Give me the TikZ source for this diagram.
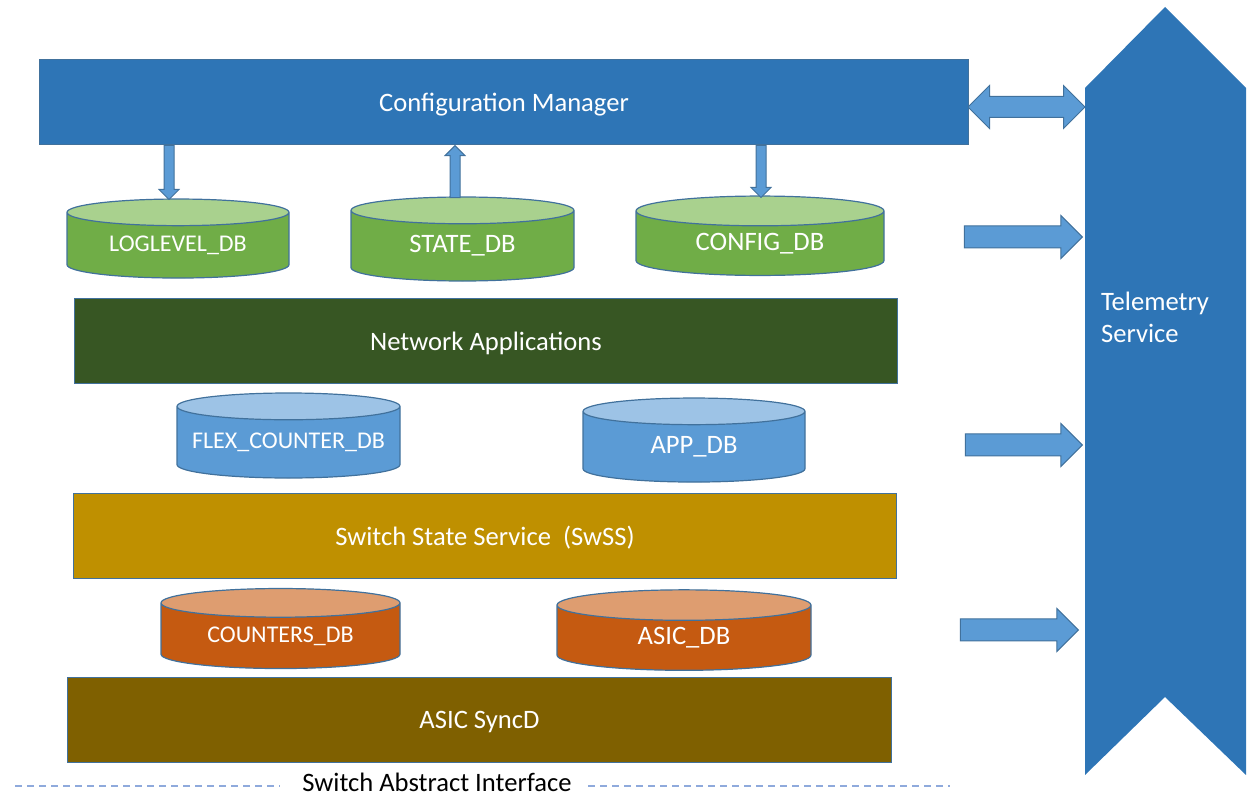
\documentclass[tikz,border=0pt]{standalone}
\usepackage{fontspec}
\setmainfont{Carlito}
\usetikzlibrary{shapes.geometric,shapes.arrows}

\definecolor{cmblue}{HTML}{2E75B6}
\definecolor{arrblue}{HTML}{5B9BD5}
\definecolor{edgeblue}{HTML}{41719C}
\definecolor{dbgreen}{HTML}{70AD47}
\definecolor{dbgreentop}{HTML}{A9D18E}
\definecolor{appgreen}{HTML}{375623}
\definecolor{dbblue}{HTML}{5B9BD5}
\definecolor{dbbluetop}{HTML}{9DC3E6}
\definecolor{swssgold}{HTML}{BF9000}
\definecolor{dborange}{HTML}{C55A11}
\definecolor{dborangetop}{HTML}{DE9D70}
\definecolor{syncbrown}{HTML}{7F6000}
\definecolor{saiblue}{HTML}{8FAADC}

\begin{document}
\begin{tikzpicture}[x=0.5pt, y=-0.5pt,
    bigtext/.style={font=\fontsize{13.3}{16}\selectfont},
    smalltext/.style={font=\fontsize{12}{14}\selectfont},
    layer/.style={rectangle, draw=edgeblue, line width=0.5pt, text=white, bigtext,
                  anchor=north west, inner sep=0pt, text depth=0pt, minimum height=42.5pt},
    db/.style={cylinder, shape border rotate=90, aspect=0.12, draw=edgeblue,
               line width=0.6pt, cylinder uses custom fill, text=white, bigtext,
               inner xsep=0pt, align=center},
    dbg/.style={db, cylinder body fill=dbgreen, cylinder end fill=dbgreentop},
    dbb/.style={db, cylinder body fill=dbblue, cylinder end fill=dbbluetop},
    dbo/.style={db, cylinder body fill=dborange, cylinder end fill=dborangetop},
    thinarrow/.style={single arrow, draw=edgeblue, fill=arrblue, line width=0.5pt,
                      inner sep=2.25pt, single arrow head extend=2.5pt},
    fatarrow/.style={single arrow, draw=edgeblue, fill=arrblue, line width=0.5pt,
                     inner sep=5.25pt, single arrow head extend=5.25pt},
    sai/.style={saiblue, line width=1pt, dash pattern=on 3.5pt off 2.5pt}]
  \useasboundingbox (0,0) rectangle (1253,795);

  % layers
  \node[layer, fill=cmblue, minimum width=464.5pt] (cm) at (39,59) {Configuration Manager};
  \node[layer, fill=appgreen, minimum width=411.5pt] (netapp) at (74,298) {Network Applications};
  \node[layer, fill=swssgold, minimum width=411.5pt] (swss) at (73,493) {Switch State Service\ \ (SwSS)};
  \node[layer, fill=syncbrown, minimum width=412pt] (syncd) at (67,677) {ASIC SyncD};

  % databases
  \node[dbg, smalltext, text width=111pt, minimum height=39.5pt] (loglevel) at (178,245.5) {LOGLEVEL\_DB};
  \node[dbg, text width=111.5pt, minimum height=42pt] (state) at (462.5,246) {STATE\_DB};
  \node[dbg, text width=124pt, minimum height=37.5pt] (config) at (760,243.5) {CONFIG\_DB};
  \node[dbb, smalltext, text width=111.5pt, minimum height=42.5pt] (flex) at (288.5,442.5) {FLEX\_COUNTER\_DB};
  \node[dbb, text width=111pt, minimum height=42pt] (appdb) at (694,447) {APP\_DB};
  \node[dbo, smalltext, text width=119.5pt, minimum height=40pt] (counters) at (280.5,636) {COUNTERS\_DB};
  \node[dbo, text width=127pt, minimum height=38pt] (asic) at (684,638) {ASIC\_DB};

  % telemetry banner
  \coordinate (telnw) at (1085,88);
  \coordinate (teltop) at (1165,7);
  \coordinate (telne) at (1246,88);
  \coordinate (telse) at (1246,775);
  \coordinate (telnotch) at (1165,697);
  \coordinate (telsw) at (1085,775);
  \fill[cmblue] (telnw) -- (teltop) -- (telne) -- (telse) -- (telnotch) -- (telsw) -- cycle;
  \node[anchor=west, align=left, text=white, bigtext] (teltxt) at (1094,317) {Telemetry\\Service};

  % config manager <-> databases
  \node[thinarrow, rotate=-90, anchor=tail, minimum height=27pt] (a1) at ([xshift=-4.5pt]loglevel.north |- cm.south) {};
  \node[thinarrow, rotate=90, anchor=tip, minimum height=26pt] (a2) at ([xshift=-3.75pt]state.north |- cm.south) {};
  \node[thinarrow, rotate=-90, anchor=tail, minimum height=26pt] (a3) at ([xshift=0.5pt]config.north |- cm.south) {};

  % feeds into telemetry
  \node[double arrow, draw=edgeblue, fill=arrblue, line width=0.5pt, inner sep=5pt,
        double arrow head extend=5.5pt, minimum height=58.5pt, anchor=center] (a0) at (1026.5,107) {};
  \node[fatarrow, anchor=tip, minimum height=59pt] (t1) at ([xshift=-1pt]telnw |- 0,237) {};
  \node[fatarrow, anchor=tip, minimum height=58.5pt] (t2) at ([xshift=-1pt]telnw |- 0,445) {};
  \node[fatarrow, anchor=tip, minimum height=59pt] (t3) at ([xshift=-3pt]telnw |- 0,630) {};

  % switch abstract interface
  \node[bigtext, inner sep=0pt] (saitxt) at (437,782) {Switch Abstract Interface};
  \coordinate (sail) at (15,786);
  \coordinate (sair) at (950,786);
  \draw[sai] (sail) -- (sail -| 280,0);
  \draw[sai] (sair -| 588,0) -- (sair);
\end{tikzpicture}
\end{document}
